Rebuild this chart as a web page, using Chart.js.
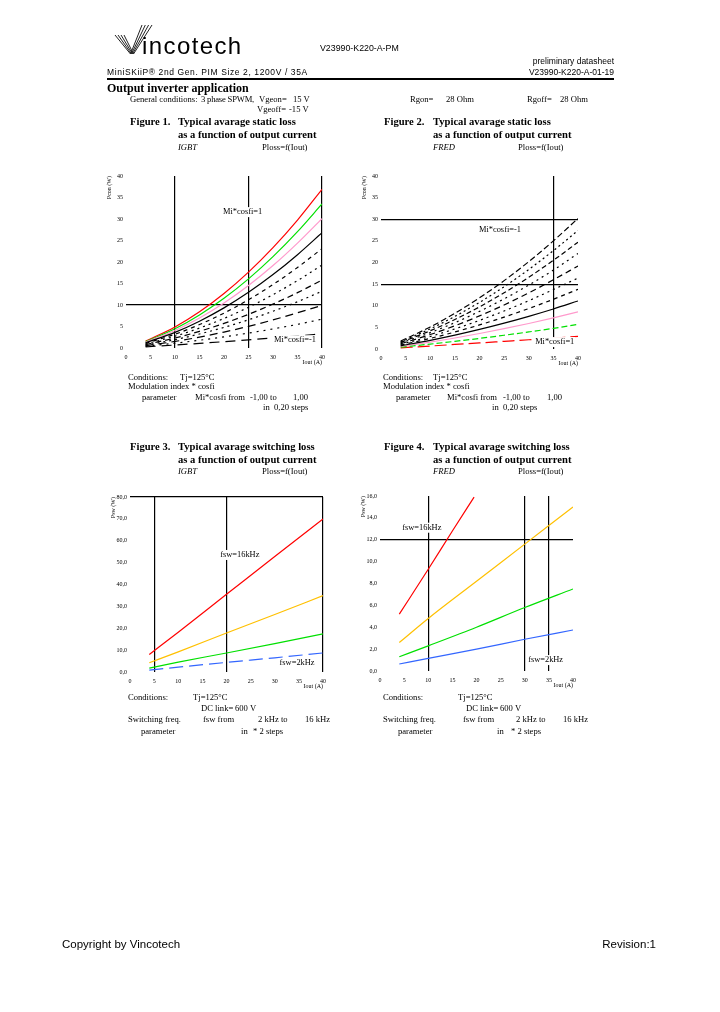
<!DOCTYPE html>
<html>
<head>
<meta charset="utf-8">
<script src="https://cdn.jsdelivr.net/npm/chart.js@4/dist/chart.umd.min.js"></script>
<style>
  body { margin: 0; background: #fff; }
  #page { position: relative; width: 720px; height: 1012px; overflow: hidden; background: #fff; }
  .t { position: absolute; white-space: nowrap; font-family: "Liberation Serif", "Times New Roman", serif; font-size: 8.6px; line-height: 10px; color: #000; filter: grayscale(1); }
  .s { position: absolute; white-space: nowrap; font-family: "Liberation Sans", Arial, sans-serif; font-size: 8.5px; line-height: 10px; color: #000; filter: grayscale(1); }
  .b { font-weight: bold; }
  .i { font-style: italic; }
  .f10 { font-size: 10.6px; line-height: 12px; }
  canvas { position: absolute; }
</style>
</head>
<body>
<div id="page">
  <svg style="position:absolute;left:110px;top:22px" width="46" height="36">
    <g stroke="#222" stroke-width="1" fill="none">
      <line x1="5" y1="13" x2="20.5" y2="32"/><line x1="8" y1="13" x2="21.5" y2="32"/>
      <line x1="11" y1="13" x2="22.5" y2="32"/><line x1="14" y1="13" x2="23.5" y2="32"/>
      <line x1="20.5" y1="32" x2="32" y2="3"/><line x1="21.5" y1="32" x2="35.3" y2="3"/>
      <line x1="22.5" y1="32" x2="38.6" y2="3"/><line x1="23.5" y1="32" x2="42" y2="3"/>
    </g>
  </svg>
  <div class="s" style="left:142px;top:33px;font-size:24px;line-height:26px;letter-spacing:1.4px">incotech</div>
  <div class="s" style="left:320px;top:43px;font-size:8.8px">V23990-K220-A-PM</div>
  <div class="s" style="right:106px;top:56px">preliminary datasheet</div>
  <div class="s" style="left:107px;top:67px;letter-spacing:0.6px">MiniSKiiP® 2nd Gen. PIM Size 2, 1200V / 35A</div>
  <div class="s" style="right:106px;top:67px">V23990-K220-A-01-19</div>
  <div style="position:absolute;left:107px;top:78px;width:507px;height:1.5px;background:#000"></div>
  <div class="t b" style="left:107px;top:81px;font-size:12px;line-height:14px">Output inverter application</div>

  <div class="t" style="left:130px;top:94px">General conditions:</div>
  <div class="t" style="left:201px;top:94px;letter-spacing:-0.2px">3 phase SPWM,</div>
  <div class="t" style="left:259px;top:94px">Vgeon=</div>
  <div class="t" style="left:293px;top:94px">15 V</div>
  <div class="t" style="left:257px;top:104px">Vgeoff=</div>
  <div class="t" style="left:289px;top:104px">-15 V</div>
  <div class="t" style="left:410px;top:94px">Rgon=</div>
  <div class="t" style="left:446px;top:94px">28 Ohm</div>
  <div class="t" style="left:527px;top:94px">Rgoff=</div>
  <div class="t" style="left:560px;top:94px">28 Ohm</div>

  <div class="t b f10" style="left:130px;top:116px">Figure 1.</div>
  <div class="t b f10" style="left:178px;top:116px">Typical avarage static loss</div>
  <div class="t b f10" style="left:178px;top:129px">as a function of output current</div>
  <div class="t i" style="left:178px;top:142px">IGBT</div>
  <div class="t" style="left:262px;top:142px">Ploss=f(Iout)</div>

  <div class="t b f10" style="left:384px;top:116px">Figure 2.</div>
  <div class="t b f10" style="left:433px;top:116px">Typical avarage static loss</div>
  <div class="t b f10" style="left:433px;top:129px">as a function of output current</div>
  <div class="t i" style="left:433px;top:142px">FRED</div>
  <div class="t" style="left:518px;top:142px">Ploss=f(Iout)</div>

  <div class="t" style="left:128px;top:372px">Conditions:</div>
  <div class="t" style="left:180px;top:372px">Tj=125°C</div>
  <div class="t" style="left:128px;top:381px">Modulation index * cosfi</div>
  <div class="t" style="left:142px;top:392px">parameter</div>
  <div class="t" style="left:195px;top:392px">Mi*cosfi from</div>
  <div class="t" style="left:250px;top:392px">-1,00 to</div>
  <div class="t" style="left:293px;top:392px">1,00</div>
  <div class="t" style="left:263px;top:402px">in</div>
  <div class="t" style="left:274px;top:402px">0,20 steps</div>

  <div class="t" style="left:383px;top:372px">Conditions:</div>
  <div class="t" style="left:433px;top:372px">Tj=125°C</div>
  <div class="t" style="left:383px;top:381px">Modulation index * cosfi</div>
  <div class="t" style="left:396px;top:392px">parameter</div>
  <div class="t" style="left:447px;top:392px">Mi*cosfi from</div>
  <div class="t" style="left:503px;top:392px">-1,00 to</div>
  <div class="t" style="left:547px;top:392px">1,00</div>
  <div class="t" style="left:492px;top:402px">in</div>
  <div class="t" style="left:503px;top:402px">0,20 steps</div>

  <div class="t b f10" style="left:130px;top:441px">Figure 3.</div>
  <div class="t b f10" style="left:178px;top:441px">Typical avarage switching loss</div>
  <div class="t b f10" style="left:178px;top:454px">as a function of output current</div>
  <div class="t i" style="left:178px;top:466px">IGBT</div>
  <div class="t" style="left:262px;top:466px">Ploss=f(Iout)</div>

  <div class="t b f10" style="left:384px;top:441px">Figure 4.</div>
  <div class="t b f10" style="left:433px;top:441px">Typical avarage switching loss</div>
  <div class="t b f10" style="left:433px;top:454px">as a function of output current</div>
  <div class="t i" style="left:433px;top:466px">FRED</div>
  <div class="t" style="left:518px;top:466px">Ploss=f(Iout)</div>

  <div class="t" style="left:128px;top:692px">Conditions:</div>
  <div class="t" style="left:193px;top:692px">Tj=125°C</div>
  <div class="t" style="left:201px;top:703px">DC link=</div>
  <div class="t" style="left:235px;top:703px">600 V</div>
  <div class="t" style="left:128px;top:714px">Switching freq.</div>
  <div class="t" style="left:203px;top:714px">fsw from</div>
  <div class="t" style="left:258px;top:714px">2 kHz to</div>
  <div class="t" style="left:305px;top:714px">16 kHz</div>
  <div class="t" style="left:141px;top:726px">parameter</div>
  <div class="t" style="left:241px;top:726px">in</div>
  <div class="t" style="left:253px;top:726px">* 2 steps</div>

  <div class="t" style="left:383px;top:692px">Conditions:</div>
  <div class="t" style="left:458px;top:692px">Tj=125°C</div>
  <div class="t" style="left:466px;top:703px">DC link=</div>
  <div class="t" style="left:500px;top:703px">600 V</div>
  <div class="t" style="left:383px;top:714px">Switching freq.</div>
  <div class="t" style="left:463px;top:714px">fsw from</div>
  <div class="t" style="left:516px;top:714px">2 kHz to</div>
  <div class="t" style="left:563px;top:714px">16 kHz</div>
  <div class="t" style="left:398px;top:726px">parameter</div>
  <div class="t" style="left:497px;top:726px">in</div>
  <div class="t" style="left:511px;top:726px">* 2 steps</div>

  <div class="s" style="left:62px;top:937px;font-size:11.5px;line-height:14px">Copyright by Vincotech</div>
  <div class="s" style="right:64px;top:937px;font-size:11.5px;line-height:14px">Revision:1</div>

  <canvas id="fig1"></canvas>
  <canvas id="fig2"></canvas>
  <canvas id="fig3"></canvas>
  <canvas id="fig4"></canvas>
</div>
<script>
// Mi*cosfi parameter, -1.0 ... 1.0 in 0.2 steps (row order of the static arrays)
const miCosfi = [-1.0, -0.8, -0.6, -0.4, -0.2, 0.0, 0.2, 0.4, 0.6, 0.8, 1.0];
const staticX = [4, 10, 15, 20, 25, 30, 35, 40];

// Figure 1, IGBT static loss (W)
const igbtStatic = [
  [0.27, 0.69, 1.07, 1.47, 1.89, 2.34, 2.80, 3.3],
  [0.40, 1.11, 1.81, 2.59, 3.47, 4.44, 5.50, 6.7],
  [0.54, 1.53, 2.54, 3.71, 5.04, 6.54, 8.19, 9.9],
  [0.67, 1.94, 3.26, 4.79, 6.56, 8.55, 10.76, 13.2],
  [0.80, 2.32, 3.88, 5.72, 7.83, 10.22, 12.87, 15.8],
  [0.93, 2.75, 4.64, 6.88, 9.47, 12.41, 15.68, 19.3],
  [1.07, 3.20, 5.45, 8.12, 11.23, 14.76, 18.73, 23.1],
  [1.21, 3.64, 6.23, 9.33, 12.94, 17.07, 21.70, 26.8],
  [1.35, 4.06, 6.97, 10.45, 14.52, 19.17, 24.40, 30.1],
  [1.48, 4.48, 7.70, 11.56, 16.08, 21.24, 27.06, 33.5],
  [1.61, 4.90, 8.43, 12.68, 17.65, 23.34, 29.75, 36.9]
];

// Figure 2, FRED static loss (W)
const fredStatic = [
  [1.84, 5.10, 8.26, 11.83, 15.81, 20.19, 24.99, 30.2],
  [1.69, 4.66, 7.54, 10.78, 14.40, 18.38, 22.74, 27.4],
  [1.53, 4.22, 6.82, 9.74, 13.00, 16.58, 20.50, 24.7],
  [1.37, 3.78, 6.09, 8.70, 11.59, 14.78, 18.24, 22.1],
  [1.22, 3.34, 5.37, 7.66, 10.19, 12.98, 16.00, 19.2],
  [1.06, 2.89, 4.65, 6.62, 8.79, 11.17, 13.75, 16.4],
  [0.90, 2.45, 3.93, 5.57, 7.38, 9.36, 11.50, 13.8],
  [0.74, 2.01, 3.21, 4.53, 5.98, 7.56, 9.26, 11.1],
  [0.60, 1.60, 2.55, 3.58, 4.70, 5.90, 7.20, 8.6],
  [0.43, 1.13, 1.77, 2.45, 3.18, 3.95, 4.77, 5.7],
  [0.27, 0.69, 1.05, 1.40, 1.77, 2.14, 2.52, 2.9]
];

// switching frequency parameter (row order of the switching arrays)
const fswLabels = ['2 kHz', '4 kHz', '8 kHz', '16 kHz'];
const switchX = [4, 10, 20, 30, 40];

// Figure 3, IGBT switching loss (W)
const igbtSwitch = [
  [0.9, 2.2, 4.4, 6.5, 8.7],
  [1.8, 4.5, 8.7, 13.0, 17.4],
  [4.2, 9.2, 17.8, 26.3, 34.9],
  [8.0, 18.2, 35.5, 52.8, 70.0]
];

// Figure 4, FRED switching loss (W); 16 kHz curve leaves the plot at 19.5 A
const fredSwitchX16 = [4, 10, 15, 19.5];
const fredSwitch = [
  [0.64, 1.16, 2.0, 2.9, 3.75],
  [1.3, 2.3, 4.0, 5.8, 7.5],
  [2.6, 4.8, 8.2, 11.6, 15.0],
  [5.2, 9.3, 12.8, 15.9]
];

const staticColors = ['#000', '#000', '#000', '#000', '#000', '#000', '#000', '#000', '#ff99cc', '#00e000', '#ff0000'];
const fig1Dash = [[10, 6], [2, 5], [8, 5], [2, 4], [6, 4], [2, 4], [4, 4], [], [], [], []];
const fig2Dash = [[6, 3], [2, 3], [5, 3], [2, 4], [6, 4], [2, 4], [4, 4], [], [], [6, 3], [12, 5]];
const fswColors = ['#3366ff', '#00e000', '#ffc000', '#ff0000'];

const tickFont = { family: 'Liberation Serif', size: 6 };

function pts(xs, ys) {
  return xs.map((x, i) => ({ x, y: ys[i] }));
}

function notes(list) {
  return {
    id: 'notes',
    afterDatasetsDraw(chart) {
      const { ctx, scales: { x, y } } = chart;
      ctx.save();
      ctx.font = '8.4px "Liberation Serif"';
      ctx.textBaseline = 'middle';
      for (const n of list) {
        const px = x.getPixelForValue(n.x);
        const py = y.getPixelForValue(n.y);
        const w = ctx.measureText(n.text).width;
        ctx.fillStyle = '#fff';
        ctx.fillRect(px - 1, py - 5, w + 2, 10);
        ctx.fillStyle = '#000';
        ctx.fillText(n.text, px, py);
      }
      ctx.restore();
    }
  };
}

function plot(id, area, opt) {
  const cv = document.getElementById(id);
  const w = area.r - area.l + 40;
  const h = area.b - area.t + 30;
  cv.width = w;
  cv.height = h;
  cv.style.width = w + 'px';
  cv.style.height = h + 'px';
  cv.style.left = (area.l - 30) + 'px';
  cv.style.top = (area.t - 10) + 'px';
  const gridAt = (vals) => (c) => (c.tick && vals.includes(c.tick.value)) ? '#000' : 'rgba(0,0,0,0)';
  new Chart(cv, {
    type: 'line',
    data: { datasets: opt.datasets },
    options: {
      responsive: false,
      animation: false,
      layout: { padding: { top: 10, right: 10, left: 0, bottom: 0 } },
      plugins: { legend: { display: false }, tooltip: { enabled: false } },
      elements: {
        point: { radius: 0 },
        line: { borderWidth: 1.2, cubicInterpolationMode: 'monotone', fill: false }
      },
      scales: {
        x: {
          type: 'linear', min: 0, max: 40,
          afterFit: (s) => { s.height = 20; },
          border: { display: false },
          grid: { color: gridAt(opt.xGrid), drawTicks: false, lineWidth: 1.2 },
          ticks: { stepSize: 5, padding: 6, color: '#000', font: tickFont, autoSkip: false, maxRotation: 0 },
          title: { display: true, text: 'Iout (A)', align: 'end', color: '#000', font: tickFont, padding: { top: 0, bottom: 2 } }
        },
        y: {
          type: 'linear', min: 0, max: opt.yMax,
          afterFit: (s) => { s.width = 30; },
          border: { display: false },
          grid: { color: gridAt(opt.yGrid), drawTicks: false, lineWidth: 1.2 },
          ticks: { stepSize: opt.yStep, padding: 3, color: '#000', font: tickFont, autoSkip: false, callback: opt.yFmt },
          title: { display: true, text: opt.yTitle, align: 'end', color: '#000', font: tickFont, padding: { top: 10, bottom: 0 } }
        }
      }
    },
    plugins: [notes(opt.notes)]
  });
}

const comma = (v) => v.toFixed(1).replace('.', ',');

plot('fig1', { l: 126, t: 176, r: 322, b: 348 }, {
  datasets: igbtStatic.map((ys, i) => ({
    label: 'Mi*cosfi=' + miCosfi[i], data: pts(staticX, ys),
    borderColor: staticColors[i], borderDash: fig1Dash[i]
  })),
  xGrid: [10, 25, 40], yGrid: [10], yMax: 40, yStep: 5, yTitle: 'Pcon (W)',
  notes: [{ text: 'Mi*cosfi=1', x: 19.8, y: 31.6 }, { text: 'Mi*cosfi=-1', x: 30.2, y: 1.8 }]
});

plot('fig2', { l: 381, t: 176, r: 578, b: 349 }, {
  datasets: fredStatic.map((ys, i) => ({
    label: 'Mi*cosfi=' + miCosfi[i], data: pts(staticX, ys),
    borderColor: staticColors[i], borderDash: fig2Dash[i]
  })),
  xGrid: [35], yGrid: [15, 30], yMax: 40, yStep: 5, yTitle: 'Pcon (W)',
  notes: [{ text: 'Mi*cosfi=-1', x: 19.9, y: 27.6 }, { text: 'Mi*cosfi=1', x: 31.3, y: 1.6 }]
});

plot('fig3', { l: 130, t: 497, r: 323, b: 672 }, {
  datasets: igbtSwitch.map((ys, i) => ({
    label: 'fsw=' + fswLabels[i], data: pts(switchX, ys),
    borderColor: fswColors[i], borderDash: i === 0 ? [14, 6] : []
  })),
  xGrid: [5, 20, 40], yGrid: [80], yMax: 80, yStep: 10, yFmt: comma, yTitle: 'Psw (W)',
  notes: [{ text: 'fsw=16kHz', x: 18.7, y: 53.5 }, { text: 'fsw=2kHz', x: 31.0, y: 4.0 }]
});

plot('fig4', { l: 380, t: 496, r: 573, b: 671 }, {
  datasets: fredSwitch.map((ys, i) => ({
    label: 'fsw=' + fswLabels[i], data: pts(i === 3 ? fredSwitchX16 : switchX, ys),
    borderColor: fswColors[i]
  })),
  xGrid: [10, 30, 35], yGrid: [12], yMax: 16, yStep: 2, yFmt: comma, yTitle: 'Psw (W)',
  notes: [{ text: 'fsw=16kHz', x: 4.6, y: 13.1 }, { text: 'fsw=2kHz', x: 30.7, y: 1.0 }]
});
</script>
</body>
</html>
